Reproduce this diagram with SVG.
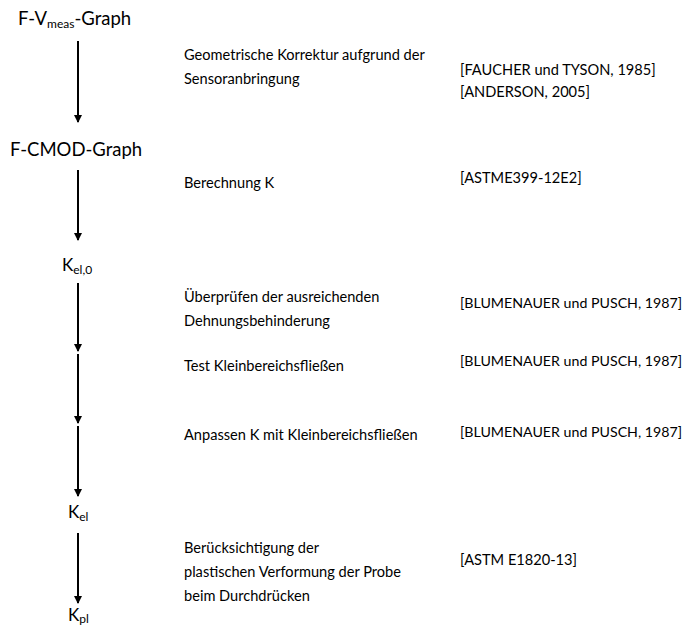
<svg xmlns="http://www.w3.org/2000/svg" width="683" height="628" viewBox="0 0 683 628">
<style>
.big{font-family:Lato,"Carlito","Liberation Sans",sans-serif;font-size:18.5px;fill:#000}
.k{font-family:Lato,"Carlito","Liberation Sans",sans-serif;font-size:17px;fill:#000}
.sub{font-size:12px}
.t{font-family:Lato,"Carlito","Liberation Sans",sans-serif;font-size:14.6px;fill:#000}
.bl{font-size:14.2px}
.c line{stroke:#000;stroke-width:2}
</style>
<defs>
<marker id="ah" markerWidth="8" markerHeight="8" refX="7" refY="4" orient="auto" markerUnits="userSpaceOnUse">
<path d="M0,0 L8,4 L0,8 Z" fill="#000"/>
</marker>
</defs>
<rect width="683" height="628" fill="#fff"/>
<g class="c" id="connectors">
<line x1="78" y1="41" x2="78" y2="122" marker-end="url(#ah)"/>
<line x1="78" y1="170" x2="78" y2="240" marker-end="url(#ah)"/>
<line x1="78" y1="283" x2="78" y2="351" marker-end="url(#ah)"/>
<line x1="78" y1="354" x2="78" y2="423" marker-end="url(#ah)"/>
<line x1="78" y1="426" x2="78" y2="496" marker-end="url(#ah)"/>
<line x1="78" y1="533" x2="78" y2="603" marker-end="url(#ah)"/>
</g>
<g id="n1"><text class="big" x="18" y="25">F-V<tspan class="sub" dy="3">meas</tspan><tspan dy="-3">-Graph</tspan></text></g>
<g id="n2"><text class="big" x="10" y="156">F-CMOD-Graph</text></g>
<g id="n3"><text class="k" x="62" y="271">K<tspan class="sub" dy="3">el,0</tspan></text></g>
<g id="n4"><text class="k" x="68" y="518">K<tspan class="sub" dy="3">el</tspan></text></g>
<g id="n5"><text class="k" x="68" y="621">K<tspan class="sub" dy="2">pl</tspan></text></g>
<g id="labels">
<text class="t" x="184" y="60">Geometrische Korrektur aufgrund der</text>
<text class="t" x="184" y="84">Sensoranbringung</text>
<text class="t" x="460" y="75">[FAUCHER und TYSON, 1985]</text>
<text class="t" x="460" y="97">[ANDERSON, 2005]</text>
<text class="t" x="184" y="188">Berechnung K</text>
<text class="t" x="460" y="183">[ASTME399-12E2]</text>
<text class="t" x="184" y="302">Überprüfen der ausreichenden</text>
<text class="t" x="184" y="326">Dehnungsbehinderung</text>
<text class="t bl" x="460" y="308">[BLUMENAUER und PUSCH, 1987]</text>
<text class="t" x="184" y="371">Test Kleinbereichsfließen</text>
<text class="t bl" x="460" y="366">[BLUMENAUER und PUSCH, 1987]</text>
<text class="t" x="184" y="440">Anpassen K mit Kleinbereichsfließen</text>
<text class="t bl" x="460" y="437">[BLUMENAUER und PUSCH, 1987]</text>
<text class="t" x="184" y="553">Berücksichtigung der</text>
<text class="t" x="184" y="577">plastischen Verformung der Probe</text>
<text class="t" x="184" y="601">beim Durchdrücken</text>
<text class="t" x="460" y="565">[ASTM E1820-13]</text>
</g>
</svg>
